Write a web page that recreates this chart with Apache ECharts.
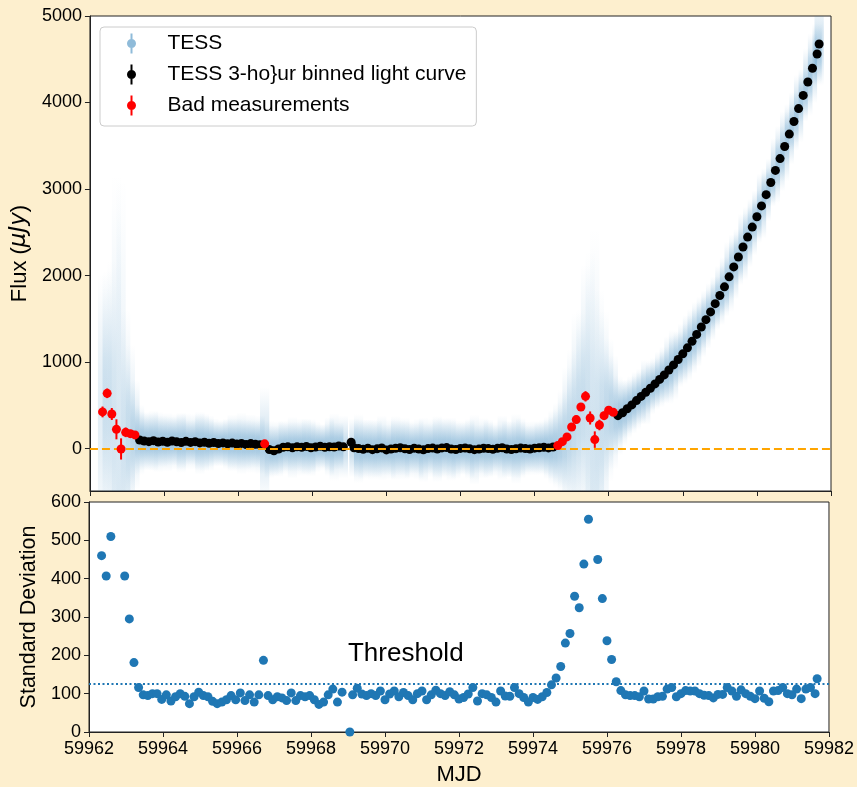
<!DOCTYPE html>
<html>
<head>
<meta charset="utf-8">
<script src="https://cdn.jsdelivr.net/npm/echarts@6/dist/echarts.min.js"></script>
<style>
html,body{margin:0;padding:0;background:#fdefce;}
#chart{width:857px;height:787px;}
</style>
</head>
<body>
<div id="chart"></div>
<script>
// ---------------- DATA ----------------
// 3-hour bin centres (MJD)
const mjd = [
59962.340,59962.465,59962.590,59962.715,59962.840,59962.965,59963.090,59963.215,
59963.340,59963.465,59963.590,59963.715,59963.840,59963.965,59964.090,59964.215,
59964.340,59964.465,59964.590,59964.715,59964.840,59964.965,59965.090,59965.215,
59965.340,59965.465,59965.590,59965.715,59965.840,59965.965,59966.090,59966.215,
59966.340,59966.465,59966.590,59966.715,59966.840,59966.965,59967.090,59967.215,
59967.340,59967.465,59967.590,59967.715,59967.840,59967.965,59968.090,59968.215,
59968.340,59968.465,59968.590,59968.715,59968.840,
59969.050,
59969.125,59969.250,59969.375,59969.500,59969.625,59969.750,59969.875,
59970.000,59970.125,59970.250,59970.375,59970.500,59970.625,59970.750,59970.875,
59971.000,59971.125,59971.250,59971.375,59971.500,59971.625,59971.750,59971.875,
59972.000,59972.125,59972.250,59972.375,59972.500,59972.625,59972.750,59972.875,
59973.000,59973.125,59973.250,59973.375,59973.500,59973.625,59973.750,59973.875,
59974.000,59974.125,59974.250,59974.375,59974.500,59974.625,59974.750,59974.875,
59975.000,59975.125,59975.250,59975.375,59975.500,59975.625,59975.750,59975.875,
59976.000,59976.125,59976.250,59976.375,59976.500,59976.625,59976.750,59976.875,
59977.000,59977.125,59977.250,59977.375,59977.500,59977.625,59977.750,59977.875,
59978.000,59978.125,59978.250,59978.375,59978.500,59978.625,59978.750,59978.875,
59979.000,59979.125,59979.250,59979.375,59979.500,59979.625,59979.750,59979.875,
59980.000,59980.125,59980.250,59980.375,59980.500,59980.625,59980.750,59980.875,
59981.000,59981.125,59981.250,59981.375,59981.500,59981.625,
59981.680
];
// binned flux (microJy)
const flux = [
424,639,400,223,-4,188,173,158,
100,88,80,92,76,85,74,88,78,70,84,72,80,66,74,62,70,58,66,55,64,52,60,48,58,50,45,
55,
-10,-25,-5,15,20,10,22,15,25,10,18,28,15,22,18,30,20,
73,
10,0,-8,5,-12,-3,8,-15,-5,3,10,-2,-10,5,-6,-14,0,6,-4,8,12,-5,-10,2,7,-3,-12,-6,4,0,-8,3,10,-4,-10,-2,6,0,-6,5,10,15,8,18,
35,80,135,250,335,481,604,354,104,273,381,443,419,
381,415,460,505,555,603,650,698,748,800,852,908,967,
1030,1095,1165,1240,1320,1405,1490,1580,1675,1770,
1870,1985,2100,2215,2330,2445,2560,2680,2805,2935,
3075,3215,3352,3492,3635,3781,3930,4082,4237,4396,4561,
4677
];
// standard deviation of the raw TESS points inside each bin
const stdDev = [
460,407,510,850,900,407,295,181,116,97,
95,100,100,85,97,81,92,100,93,74,
92,104,95,92,80,74,78,84,95,84,
102,82,97,78,97,187,95,84,92,89,
82,102,82,95,92,95,84,72,78,97,
112,78,104,
0,
97,114,99,95,100,95,107,84,99,107,
92,103,95,84,100,107,84,97,109,100,
95,105,97,86,90,99,116,81,100,97,
90,78,107,94,93,116,100,90,78,90,
85,92,103,123,141,171,232,257,354,324,
438,555,700,450,348,238,189,131,108,97,
95,95,92,107,86,86,92,93,112,116,
92,100,108,107,107,100,96,95,89,98,
98,116,107,93,110,100,93,87,107,88,
79,107,108,116,100,97,112,87,112,116,
100,
139
];
// indices of bins flagged as bad measurements
const badBins = [0,1,2,3,4,5,6,7,35,98,99,100,101,102,103,104,105,106,107,108,109,110];
const threshold = 125;
const pointsPerBin = 54;
const binWidth = 0.125;
const xTickValues = [59962,59964,59966,59968,59970,59972,59974,59976,59978,59980,59982];
const fluxTickValues = [0,1000,2000,3000,4000,5000];
const stdTickValues = [0,100,200,300,400,500,600];
const fluxRange = [-490, 5000];
const thresholdLabelPos = [59969.0, 205];
const legendNames = ['TESS', 'TESS 3-ho}ur binned light curve', 'Bad measurements'];

// ---------------- BUILD ----------------
const FONT = "'Liberation Sans', Arial, Helvetica, sans-serif";
const badSet = new Set(badBins);
const goodPts = [], badPts = [], cloudPts = [], stdPts = [];
for (let i = 0; i < mjd.length; i++) {
  const e = stdDev[i] / Math.sqrt(pointsPerBin);
  (badSet.has(i) ? badPts : goodPts).push([mjd[i], flux[i], e]);
  cloudPts.push([mjd[i], flux[i], stdDev[i]]);
  stdPts.push([mjd[i], stdDev[i]]);
}

function cloudRender(params, api) {
  const x = api.value(0), y = api.value(1), s = api.value(2);
  if (!(s > 0)) return null;
  const k = 3.5;
  const top = api.coord([x, y + k * s]);
  const bot = api.coord([x, y - k * s]);
  const w = api.size([binWidth, 0])[0] * 2;
  const a = 0.24 * Math.pow(Math.min(1, 110 / s), 0.45);
  const cs = params.coordSys;
  const rect = echarts.graphic.clipRectByRect(
    {x: top[0] - w / 2, y: top[1], width: w, height: bot[1] - top[1]},
    {x: cs.x, y: cs.y, width: cs.width, height: cs.height});
  if (!rect) return null;
  const c = (f) => 'rgba(31,119,180,' + (a * f).toFixed(4) + ')';
  const o = (sig) => 0.5 - sig / (2 * k);
  return {
    type: 'rect', shape: rect,
    style: {fill: new echarts.graphic.LinearGradient(0, top[1], 0, bot[1], [
      {offset: 0, color: c(0)},
      {offset: o(3), color: c(0.14)},
      {offset: o(2), color: c(0.5)},
      {offset: o(1), color: c(0.88)},
      {offset: 0.5, color: c(1)},
      {offset: o(-1), color: c(0.88)},
      {offset: o(-2), color: c(0.5)},
      {offset: o(-3), color: c(0.14)},
      {offset: 1, color: c(0)}
    ], true)}
  };
}
function errRender(color) {
  return function (params, api) {
    const x = api.value(0), y = api.value(1), e = api.value(2);
    const p1 = api.coord([x, y - e]), p2 = api.coord([x, y + e]);
    return {type: 'line', shape: {x1: p1[0], y1: p1[1], x2: p2[0], y2: p2[1]},
      style: {stroke: color, lineWidth: 2}};
  };
}
const ERR_ICON = 'path://M9,0 L11,0 L11,20 L9,20 Z M14.5,10 A4.5,4.5 0 1 1 5.5,10 A4.5,4.5 0 1 1 14.5,10 Z';
const AX = '#222';
const baseX = {
  type: 'value', min: xTickValues[0], max: xTickValues[xTickValues.length - 1], interval: 2,
  axisLine: {show: true, onZero: false, lineStyle: {color: AX, width: 1}},
  axisTick: {show: true, inside: false, length: 5, lineStyle: {color: AX, width: 1}},
  splitLine: {show: false}
};

const option = {
  backgroundColor: '#fdefce',
  animation: false,
  textStyle: {fontFamily: FONT},
  grid: [
    {left: 89, right: 26, top: 16, height: 475, show: true, backgroundColor: '#ffffff', borderColor: AX, borderWidth: 1},
    {left: 89, right: 26, top: 502, height: 237, show: true, backgroundColor: '#ffffff', borderColor: AX, borderWidth: 1}
  ],
  xAxis: [
    Object.assign({}, baseX, {gridIndex: 0, axisLabel: {show: false}}),
    Object.assign({}, baseX, {gridIndex: 1,
      axisLabel: {show: true, fontSize: 18, color: '#000', margin: 8, formatter: (v) => String(v)},
      name: 'MJD', nameLocation: 'middle', nameGap: 32,
      nameTextStyle: {fontSize: 22, color: '#000'}})
  ],
  yAxis: [
    {gridIndex: 0, type: 'value', min: fluxRange[0], max: fluxRange[1],
      axisLine: {show: true, onZero: false, lineStyle: {color: AX}},
      axisTick: {show: true, length: 5, lineStyle: {color: AX}, customValues: fluxTickValues},
      axisLabel: {fontSize: 18, color: '#000', margin: 8, customValues: fluxTickValues, formatter: (v) => String(v)},
      splitLine: {show: false},
      name: '{n|Flux (}{i|μJy}{n|)}', nameLocation: 'middle', nameGap: 50,
      nameTextStyle: {color: '#000', rich: {n: {fontSize: 22, color: '#000', fontFamily: FONT},
        i: {fontSize: 23, color: '#000', fontStyle: 'italic', fontFamily: "'DejaVu Sans', sans-serif"}}}
    },
    {gridIndex: 1, type: 'value', min: stdTickValues[0], max: stdTickValues[stdTickValues.length - 1], interval: 100,
      axisLine: {show: true, onZero: false, lineStyle: {color: AX}},
      axisTick: {show: true, length: 5, lineStyle: {color: AX}},
      axisLabel: {fontSize: 18, color: '#000', margin: 8, formatter: (v) => String(v)},
      splitLine: {show: false},
      name: 'Standard Deviation', nameLocation: 'middle', nameGap: 38,
      nameTextStyle: {fontSize: 21.5, color: '#000'}
    }
  ],
  legend: {
    left: 100, top: 27, orient: 'vertical', selectedMode: false,
    padding: [6, 10, 10, 27], itemGap: 10, itemWidth: 20, itemHeight: 20,
    backgroundColor: 'rgba(255,255,255,0.85)', borderColor: '#cccccc', borderWidth: 1, borderRadius: 4,
    textStyle: {fontSize: 21, color: '#000', fontFamily: FONT, padding: [0, 0, 0, 21]},
    data: [
      {name: legendNames[0], icon: ERR_ICON, itemStyle: {color: 'rgba(31,119,180,0.5)'}},
      {name: legendNames[1], icon: ERR_ICON, itemStyle: {color: '#000000'}},
      {name: legendNames[2], icon: ERR_ICON, itemStyle: {color: '#ff0000'}}
    ]
  },
  series: [
    {name: legendNames[0], type: 'custom', xAxisIndex: 0, yAxisIndex: 0, z: 1, silent: true,
      renderItem: cloudRender, data: cloudPts, itemStyle: {color: 'rgba(31,119,180,0.5)'}},
    {type: 'custom', xAxisIndex: 0, yAxisIndex: 0, z: 2, silent: true,
      renderItem: errRender('#000'), data: goodPts},
    {name: legendNames[1], type: 'scatter', xAxisIndex: 0, yAxisIndex: 0, z: 3,
      symbolSize: 9, itemStyle: {color: '#000000', opacity: 1},
      data: goodPts.map(p => [p[0], p[1]]),
      markLine: {symbol: 'none', silent: true, label: {show: false},
        lineStyle: {color: '#FFA500', type: [8, 4], width: 2},
        data: [{yAxis: 0}]}},
    {type: 'custom', xAxisIndex: 0, yAxisIndex: 0, z: 6, silent: true,
      renderItem: errRender('#ff0000'), data: badPts},
    {name: legendNames[2], type: 'scatter', xAxisIndex: 0, yAxisIndex: 0, z: 7,
      symbolSize: 9, itemStyle: {color: '#ff0000', opacity: 1},
      data: badPts.map(p => [p[0], p[1]])},
    {name: 'std', type: 'scatter', xAxisIndex: 1, yAxisIndex: 1, z: 3, clip: true,
      symbolSize: 9, itemStyle: {color: '#1f77b4', opacity: 1},
      data: stdPts,
      markLine: {symbol: 'none', silent: true, label: {show: false},
        lineStyle: {color: '#1f77b4', type: [2, 2.5], width: 2},
        data: [{yAxis: threshold}]}},
    {type: 'scatter', xAxisIndex: 1, yAxisIndex: 1, z: 8, symbolSize: 0, silent: true,
      itemStyle: {opacity: 1},
      data: [thresholdLabelPos],
      label: {show: true, position: 'right', distance: 0, formatter: 'Threshold',
        fontSize: 26, color: '#000000', opacity: 1, fontFamily: FONT, verticalAlign: 'middle', textBorderWidth: 0}}
  ]
};
const chart = echarts.init(document.getElementById('chart'));
chart.setOption(option);
</script>
</body>
</html>
